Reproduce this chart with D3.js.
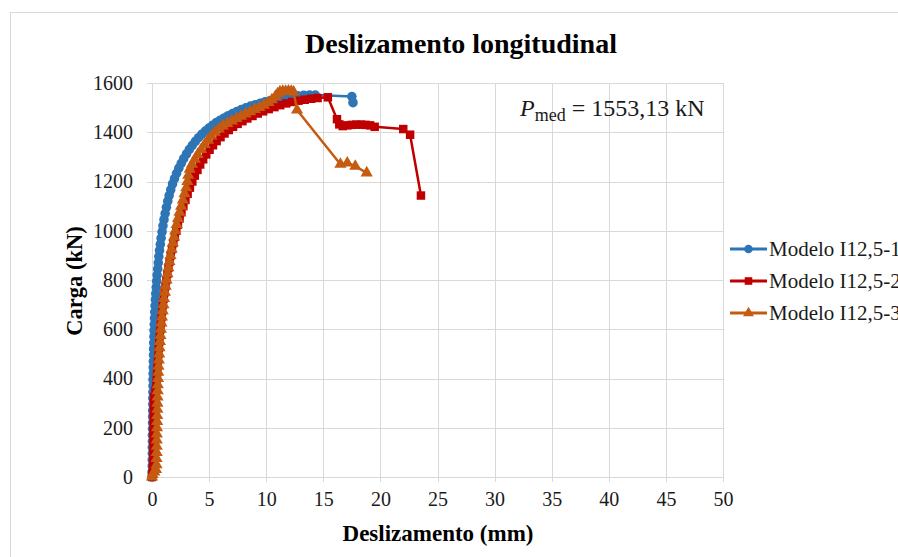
<!DOCTYPE html>
<html>
<head>
<meta charset="utf-8">
<script src="https://cdn.jsdelivr.net/npm/d3@7"></script>
<style>
  body { margin: 0; background: #fff; overflow: hidden; }
  svg { display: block; font-family: "Liberation Serif", "Times New Roman", serif; }
  svg text { font-family: "Liberation Serif", "Times New Roman", serif; }
</style>
</head>
<body>
<div id="chart"></div>
<script>
// ── Données (deslizamento em mm, carga em kN) ─────────────────────────────
const seriesNames = ['Modelo I12,5-1', 'Modelo I12,5-2', 'Modelo I12,5-3'];
const seriesColors = ['#2E75B6', '#C00000', '#C55A11'];
const seriesMarkers = ['circle', 'square', 'triangle'];

const slip1 = [0, 0.01, 0.02, 0.02, 0.03, 0.03, 0.04, 0.04, 0.05, 0.05, 0.06, 0.06, 0.07, 0.07, 0.08, 0.09, 0.09, 0.1, 0.11, 0.12,
  0.13, 0.14, 0.15, 0.17, 0.18, 0.2, 0.22, 0.24, 0.27, 0.3, 0.33, 0.37, 0.41, 0.45, 0.5, 0.55, 0.6, 0.66, 0.73, 0.8,
  0.88, 0.96, 1.05, 1.15, 1.26, 1.38, 1.5, 1.64, 1.8, 1.97, 2.15, 2.35, 2.56, 2.78, 3.02, 3.27, 3.53, 3.8, 4.08, 4.37,
  4.67, 4.98, 5.3, 5.63, 5.97, 6.32, 6.68, 7.05, 7.43, 7.82, 8.22, 8.63, 9.05, 9.48, 9.92, 10.37, 10.83, 11.3, 11.78, 12.27,
  12.77, 13.28, 13.8, 14.3, 17.5, 17.6];
const load1 = [0, 20, 45, 70, 95, 120, 145, 170, 195, 220, 245, 270, 295, 320, 345, 370, 395, 420, 445, 470,
  495, 520, 545, 570, 595, 620, 645, 670, 695, 720, 745, 770, 795, 820, 845, 870, 895, 920, 945, 970,
  995, 1020, 1045, 1070, 1095, 1120, 1143, 1166, 1190, 1212, 1233, 1254, 1274, 1293, 1312, 1330, 1347, 1363, 1378, 1392,
  1405, 1417, 1428, 1439, 1449, 1458, 1467, 1476, 1484, 1492, 1499, 1506, 1512, 1518, 1524, 1529, 1534, 1538, 1542, 1545,
  1548, 1550, 1551, 1551, 1545, 1520];

const slip2 = [0, 0.05, 0.08, 0.1, 0.12, 0.12, 0.13, 0.13, 0.14, 0.15, 0.16, 0.17, 0.18, 0.3, 0.38, 0.42, 0.45, 0.48, 0.52, 0.56,
  0.6, 0.64, 0.68, 0.73, 0.78, 0.84, 0.9, 0.96, 1.03, 1.1, 1.18, 1.26, 1.35, 1.44, 1.54, 1.64, 1.75, 1.87, 2.0, 2.13,
  2.27, 2.42, 2.58, 2.75, 2.93, 3.12, 3.32, 3.53, 3.75, 3.98, 4.22, 4.48, 4.75, 5.04, 5.34, 5.66, 6.0, 6.35, 6.72, 7.1,
  7.5, 7.92, 8.35, 8.8, 9.26, 9.73, 10.22, 10.72, 11.23, 11.75, 12.28, 12.82, 13.37, 13.93, 14.5, 15.4, 16.2, 16.4, 16.7, 17.1,
  17.5, 17.9, 18.3, 18.7, 19.1, 19.5, 22.0, 22.6, 23.55];
const load2 = [0, 15, 35, 60, 90, 120, 150, 180, 210, 240, 270, 300, 325, 350, 375, 400, 425, 450, 475, 500,
  525, 550, 575, 600, 625, 650, 675, 700, 725, 750, 775, 800, 825, 850, 875, 900, 925, 950, 975, 1000,
  1025, 1050, 1075, 1100, 1125, 1150, 1175, 1200, 1224, 1247, 1269, 1290, 1310, 1329, 1347, 1364, 1380, 1395, 1409, 1422,
  1434, 1445, 1456, 1466, 1476, 1485, 1494, 1502, 1510, 1517, 1523, 1528, 1532, 1536, 1539, 1542, 1453, 1432, 1425, 1428,
  1430, 1431, 1431, 1430, 1428, 1422, 1413, 1390, 1143];

const slip3 = [0, 0.05, 0.2, 0.35, 0.4, 0.4, 0.41, 0.42, 0.42, 0.43, 0.44, 0.45, 0.46, 0.47, 0.48, 0.49, 0.5, 0.51, 0.53, 0.55,
  0.57, 0.6, 0.63, 0.66, 0.7, 0.74, 0.78, 0.83, 0.88, 0.94, 1.0, 1.06, 1.13, 1.2, 1.28, 1.36, 1.44, 1.53, 1.62, 1.72,
  1.82, 1.93, 2.04, 2.16, 2.28, 2.41, 2.55, 2.7, 2.85, 3.0, 3.1, 3.18, 3.3, 3.5, 3.75, 4.0, 4.3, 4.6, 4.9, 5.2,
  5.5, 5.85, 6.2, 6.6, 7.0, 7.4, 7.8, 8.2, 8.6, 9.0, 9.4, 9.8, 10.2, 10.5, 10.8, 11.0, 11.2, 11.45, 11.7, 11.95,
  12.2, 12.4, 12.7, 16.5, 17.1, 17.8, 18.8];
const load3 = [0, 10, 20, 30, 50, 75, 100, 125, 150, 175, 200, 225, 250, 275, 300, 325, 350, 375, 400, 425,
  450, 475, 500, 525, 550, 575, 600, 625, 650, 675, 700, 725, 750, 775, 800, 825, 850, 875, 900, 925,
  950, 975, 1000, 1025, 1050, 1075, 1100, 1125, 1150, 1175, 1200, 1225, 1250, 1270, 1290, 1310, 1330, 1350, 1368, 1385,
  1400, 1413, 1425, 1436, 1446, 1456, 1465, 1474, 1483, 1492, 1501, 1510, 1521, 1532, 1545, 1556, 1564, 1566, 1566, 1567,
  1566, 1563, 1490, 1270, 1275, 1262, 1235];

const xTicks = [0, 5, 10, 15, 20, 25, 30, 35, 40, 45, 50];
const yTicks = [0, 200, 400, 600, 800, 1000, 1200, 1400, 1600];

// ── Mise en page ─────────────────────────────────────────────────────────
const W = 898, H = 557;
const FONT = '"Liberation Serif", "Times New Roman", serif';
const svg = d3.select('#chart').append('svg')
    .attr('width', W)
    .attr('height', H);

// cadre du graphique
svg.append('rect')
    .attr('x', 10.5).attr('y', 12.5)
    .attr('width', 1000).attr('height', 600)
    .attr('fill', '#fff')
    .attr('stroke', '#d9d9d9');

const x = d3.scaleLinear().domain([0, 50]).range([152, 723]);
const y = d3.scaleLinear().domain([0, 1600]).range([477, 83]);

// grille
const grid = svg.append('g').attr('stroke', '#d9d9d9').attr('stroke-width', 1);
grid.selectAll('.hx').data(yTicks).join('line')
    .attr('x1', x(0) - 5).attr('x2', x(50))
    .attr('y1', d => Math.round(y(d)) + 0.5).attr('y2', d => Math.round(y(d)) + 0.5);
grid.selectAll('.vx').data(xTicks).join('line')
    .attr('y1', y(1600)).attr('y2', y(0) + 5)
    .attr('x1', d => Math.round(x(d)) + 0.5).attr('x2', d => Math.round(x(d)) + 0.5);

// axes (libellés)
const xAxis = d3.axisBottom(x).tickValues(xTicks).tickFormat(d3.format('d')).tickSize(0).tickPadding(15);
svg.append('g')
    .attr('transform', `translate(0,${y(0)})`)
    .call(xAxis)
    .call(g => g.select('.domain').remove())
    .call(g => g.attr('font-family', null).attr('font-size', null))
    .call(g => g.selectAll('text')
        .style('font-family', FONT)
        .style('font-size', '20px').attr('fill', '#1a1a1a'));

const yAxis = d3.axisLeft(y).tickValues(yTicks).tickFormat(d3.format('d')).tickSize(0).tickPadding(19);
svg.append('g')
    .attr('transform', `translate(${x(0)},0)`)
    .call(yAxis)
    .call(g => g.select('.domain').remove())
    .call(g => g.attr('font-family', null).attr('font-size', null))
    .call(g => g.selectAll('text')
        .style('font-family', FONT)
        .style('font-size', '20px').attr('fill', '#1a1a1a'));

// titres
svg.append('text')
    .attr('x', 461).attr('y', 53)
    .attr('text-anchor', 'middle')
    .attr('font-size', 28).attr('font-weight', 'bold')
    .text('Deslizamento longitudinal');

svg.append('text')
    .attr('x', 438).attr('y', 541)
    .attr('text-anchor', 'middle')
    .attr('font-size', 23).attr('font-weight', 'bold')
    .text('Deslizamento (mm)');

svg.append('text')
    .attr('transform', 'translate(82,281) rotate(-90)')
    .attr('text-anchor', 'middle')
    .attr('font-size', 22.5).attr('font-weight', 'bold')
    .text('Carga (kN)');

// annotation P_med
const ann = svg.append('text')
    .attr('x', 520).attr('y', 116)
    .attr('font-size', 24).attr('fill', '#1a1a1a');
ann.append('tspan').attr('font-style', 'italic').text('P');
ann.append('tspan').attr('font-size', 18).attr('dy', 5).text('med');
ann.append('tspan').attr('dy', -5).text(' = 1553,13 kN');

// ── Séries ───────────────────────────────────────────────────────────────
const series = [
    { slip: slip1, load: load1 },
    { slip: slip2, load: load2 },
    { slip: slip3, load: load3 }
].map((s, i) => ({
    name: seriesNames[i],
    color: seriesColors[i],
    marker: seriesMarkers[i],
    points: s.slip.map((v, j) => [v, s.load[j]])
}));

const line = d3.line().x(d => x(d[0])).y(d => y(d[1]));
const symbolOf = m => m === 'circle' ? d3.symbolCircle : m === 'square' ? d3.symbolSquare : d3.symbolTriangle;
const sizeOf = m => m === 'circle' ? 72 : m === 'square' ? 72 : 64;

const plot = svg.append('g');
series.forEach(s => {
    const g = plot.append('g');
    g.append('path')
        .datum(s.points)
        .attr('d', line)
        .attr('fill', 'none')
        .attr('stroke', s.color)
        .attr('stroke-width', 2.5)
        .attr('stroke-linejoin', 'round');
    g.selectAll('path.mk').data(s.points).join('path')
        .attr('class', 'mk')
        .attr('transform', d => `translate(${x(d[0])},${y(d[1])})`)
        .attr('d', d3.symbol().type(symbolOf(s.marker)).size(sizeOf(s.marker)))
        .attr('fill', s.color);
});

// ── Légende (coupée au bord droit, comme l'original) ─────────────────────
const legend = svg.append('g');
const legendY = [249, 281, 313];
series.forEach((s, i) => {
    const g = legend.append('g').attr('transform', `translate(730,${legendY[i]})`);
    g.append('line').attr('x1', 0).attr('x2', 37)
        .attr('stroke', s.color).attr('stroke-width', 3);
    g.append('path')
        .attr('transform', 'translate(18.5,0)')
        .attr('d', d3.symbol().type(symbolOf(s.marker)).size(sizeOf(s.marker) * 0.8))
        .attr('fill', s.color);
    g.append('text')
        .attr('x', 39).attr('y', 7)
        .attr('font-size', 21).attr('fill', '#1a1a1a')
        .text(s.name);
});
</script>
</body>
</html>
